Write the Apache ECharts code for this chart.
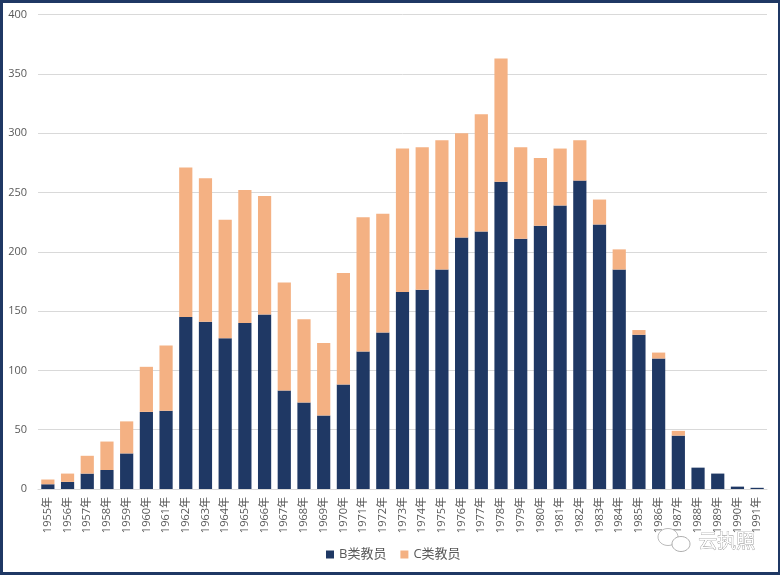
<!DOCTYPE html>
<html><head><meta charset="utf-8">
<style>html,body{margin:0;padding:0;background:#fff}#c{width:780px;height:575px}</style>
<script src="https://cdn.jsdelivr.net/npm/echarts@6/dist/echarts.min.js"></script>
</head><body><div id="c"></div>
<script>
const years = ['1955年','1956年','1957年','1958年','1959年','1960年','1961年','1962年','1963年','1964年','1965年','1966年','1967年','1968年','1969年','1970年','1971年','1972年','1973年','1974年','1975年','1976年','1977年','1978年','1979年','1980年','1981年','1982年','1983年','1984年','1985年','1986年','1987年','1988年','1989年','1990年','1991年'];
const seriesB = [4,6,13,16,30,65,66,145,141,127,140,147,83,73,62,88,116,132,166,168,185,212,217,259,211,222,239,260,223,185,130,110,45,18,13,2,1];
const seriesC = [4,7,15,24,27,38,55,126,121,100,112,100,91,70,61,94,113,100,121,120,109,88,99,104,77,57,48,34,21,17,4,5,4,0,0,0,0];
const font = '"Open Sans","Noto Sans CJK SC",sans-serif';
const navy = '#1f3864';
const chart = echarts.init(document.getElementById('c'), null, {renderer:'canvas'});
function frame(x,y,w,h){return {type:'rect',z:100,silent:true,shape:{x:x,y:y,width:w,height:h},style:{fill:navy}};}
chart.setOption({
  animation:false,
  backgroundColor:'#fff',
  grid:{left:38,right:13,top:14.5,bottom:86,containLabel:false},
  legend:{bottom:9,left:321,itemWidth:8,itemHeight:8,itemGap:14,icon:'rect',
    textStyle:{color:'#595959',fontSize:13,fontFamily:font},
    data:['B类教员','C类教员']},
  xAxis:{type:'category',data:years,
    axisLine:{lineStyle:{color:'#d9d9d9',width:1}},axisTick:{show:false},
    axisLabel:{rotate:90,interval:0,color:'#595959',fontSize:11,margin:8,fontFamily:font}},
  yAxis:{type:'value',min:0,max:400,interval:50,
    axisLine:{show:false},axisTick:{show:false},
    splitLine:{lineStyle:{color:'#d9d9d9',width:1}},
    axisLabel:{color:'#595959',fontSize:11,margin:11,fontFamily:font}},
  series:[
    {name:'B类教员',type:'bar',stack:'t',data:seriesB,barWidth:13.2,itemStyle:{color:navy}},
    {name:'C类教员',type:'bar',stack:'t',data:seriesC,barWidth:13.2,itemStyle:{color:'#f4b183'}}
  ],
  graphic:[
    frame(0,0,780,3),frame(0,572,780,3),frame(0,0,3,575),frame(778,0,2,575),
    {type:'ellipse',z:101,silent:true,shape:{cx:668,cy:537,rx:10,ry:8.5},style:{fill:'#fff',stroke:'#aaa',lineWidth:0.8}},
    {type:'ellipse',z:102,silent:true,shape:{cx:681,cy:544,rx:9,ry:7.5},style:{fill:'#fff',stroke:'#999',lineWidth:0.8}},
    {type:'text',z:103,silent:true,left:698,top:531,
     style:{text:'云执照',fill:'#fff',stroke:'#8a8a8a',lineWidth:0.7,fontSize:19,fontFamily:'"Noto Sans CJK SC",sans-serif'}}
  ]
});
</script></body></html>
